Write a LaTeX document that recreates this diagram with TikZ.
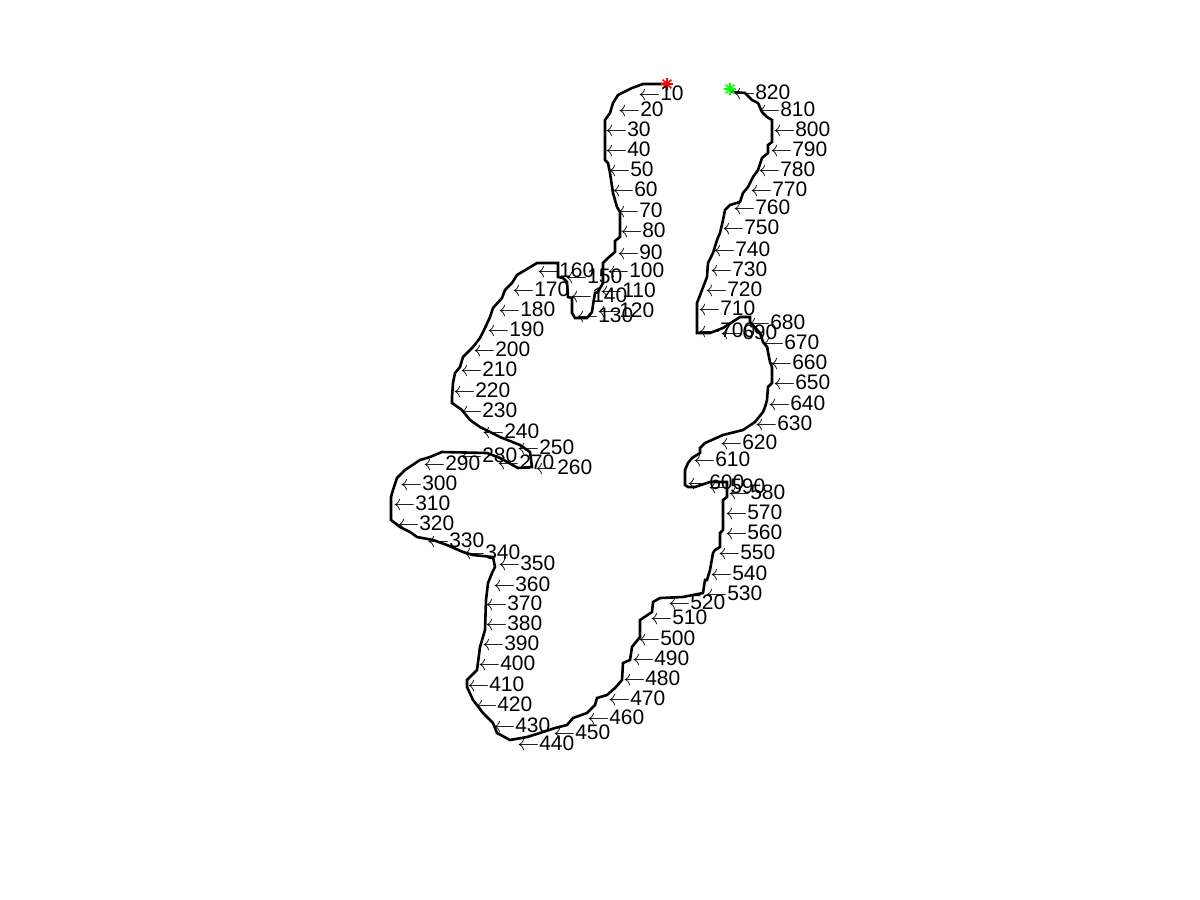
\documentclass[tikz,border=0pt]{standalone}
\usepackage{fontspec}
\setmainfont{Liberation Sans}
\usepackage{tikz}
\definecolor{mgreen}{RGB}{0,255,0}
\definecolor{mred}{RGB}{255,0,0}
\tikzset{
  asterisk/.pic={\draw[line width=0.8pt] (-6,0)--(6,0) (0,-6)--(0,6)
    (-4.3,-4.3)--(4.3,4.3) (-4.3,4.3)--(4.3,-4.3);}}

\begin{document}
\begin{tikzpicture}[x=0.5pt,y=-0.5pt,
  trace/.style={draw=black,line width=1.3pt,line join=miter},
  lbl/.style={anchor=west,inner sep=0pt,font=\fontsize{10.5}{12}\selectfont}]
\useasboundingbox[fill=white] (0,0) rectangle (1200,900);
% boundary, from the red start to the green end
\draw[trace] (667,84) -- (643,84) -- (632,88) -- (622,93) -- (618,95) -- (613,103)
  -- (610,113) -- (605,120) -- (605,160) -- (608,163) -- (610,173) -- (613,193)
  -- (617,207) -- (620,212) -- (620,237) -- (615,241) -- (615,252) -- (608,258)
  -- (603,263) -- (603,283) -- (598,292) -- (595,293) -- (593,305) -- (592,312)
  -- (587,318) -- (575,318) -- (572,313) -- (572,298) -- (568,297) -- (567,282)
  -- (563,278) -- (558,277) -- (558,263) -- (537,263) -- (517,275) -- (512,283)
  -- (505,290) -- (502,298) -- (493,308) -- (490,317) -- (485,328) -- (480,338)
  -- (473,347) -- (463,357) -- (460,367) -- (455,373) -- (453,383) -- (452,397)
  -- (452,403) -- (462,410) -- (470,420) -- (480,427) -- (500,437) -- (520,445)
  -- (530,452) -- (532,467) -- (518,468) -- (500,458) -- (487,453) -- (442,452)
  -- (430,457) -- (420,460) -- (405,470) -- (400,475) -- (397,478) -- (393,490)
  -- (391,497) -- (391,520) -- (395,523) -- (400,527) -- (410,532) -- (417,537)
  -- (433,540) -- (447,545) -- (463,552) -- (473,555) -- (493,557) -- (495,567)
  -- (492,573) -- (488,583) -- (486,600) -- (485,630) -- (480,647) -- (477,670)
  -- (467,680) -- (467,687) -- (473,700) -- (483,713) -- (493,723) -- (497,733)
  -- (510,740) -- (527,737) -- (540,733) -- (555,728) -- (567,725) -- (573,718)
  -- (587,713) -- (595,705) -- (597,698) -- (607,695) -- (615,688) -- (622,680)
  -- (623,663) -- (630,660) -- (632,647) -- (640,637) -- (640,620) -- (652,612)
  -- (653,602) -- (660,598) -- (683,597) -- (703,593) -- (705,580) -- (707,580)
  -- (710,570) -- (713,553) -- (715,550) -- (720,547) -- (720,533) -- (723,530)
  -- (723,500) -- (727,497) -- (727,482) -- (710,482) -- (695,487) -- (688,487)
  -- (685,485) -- (685,470) -- (688,463) -- (692,458) -- (700,453) -- (700,448)
  -- (705,443) -- (723,435) -- (743,430) -- (755,422) -- (763,412) -- (765,407)
  -- (767,400) -- (768,387) -- (772,383) -- (772,367) -- (770,362) -- (767,347)
  -- (763,342) -- (760,333) -- (750,322) -- (750,317) -- (740,317) -- (723,328)
  -- (710,333) -- (697,333) -- (697,303) -- (702,290) -- (707,277) -- (708,263)
  -- (713,253) -- (717,240) -- (720,233) -- (723,220) -- (725,210) -- (730,205)
  -- (740,202) -- (743,193) -- (748,187) -- (753,177) -- (758,170) -- (762,158)
  -- (768,153) -- (768,145) -- (772,142) -- (772,120) -- (767,117) -- (762,112)
  -- (758,103) -- (752,100) -- (745,93) -- (733,92) -- (730,89);
\pic[mred] at (667,84) {asterisk};
\pic[mgreen] at (730,89) {asterisk};
% index labels
\foreach \x/\y/\n in {638/93/10, 618/109/20, 605/129/30, 605/149/40, 608/169/50,
  612/189/60, 617/210/70, 620/230/80, 617/252/90, 607/270/100, 600/290/110,
  597/310/120, 576/315/130, 570/295/140, 565/276/150, 537/270/160, 512/289/170,
  498/309/180, 487/329/190, 473/349/200, 460/369/210, 453/390/220, 460/410/230,
  482/431/240, 517/447/250, 535/467/260, 497/462/270, 460/455/280, 423/463/290,
  400/483/300, 393/503/310, 397/523/320, 427/540/330, 463/552/340, 498/563/350,
  493/584/360, 485/603/370, 485/623/380, 482/643/390, 478/663/400, 467/684/410,
  475/704/420, 493/725/430, 517/743/440, 553/732/450, 587/717/460, 608/698/470,
  623/678/480, 632/658/490, 638/638/500, 650/617/510, 668/602/520, 705/593/530,
  710/573/540, 718/552/550, 725/532/560, 725/512/570, 728/492/580, 708/486/590,
  687/482/600, 693/459/610, 720/442/620, 755/423/630, 768/403/640, 773/382/650,
  770/362/660, 762/342/670, 748/322/680, 720/332/690, 698/330/700, 698/308/710,
  705/289/720, 710/269/730, 713/249/740, 722/227/750, 733/207/760, 750/189/770,
  758/169/780, 770/149/790, 773/129/800, 758/109/810, 733/92/820}
  \node[lbl] (l\n) at (\x,\y) {$\leftarrow$\n};
\end{tikzpicture}
\end{document}
